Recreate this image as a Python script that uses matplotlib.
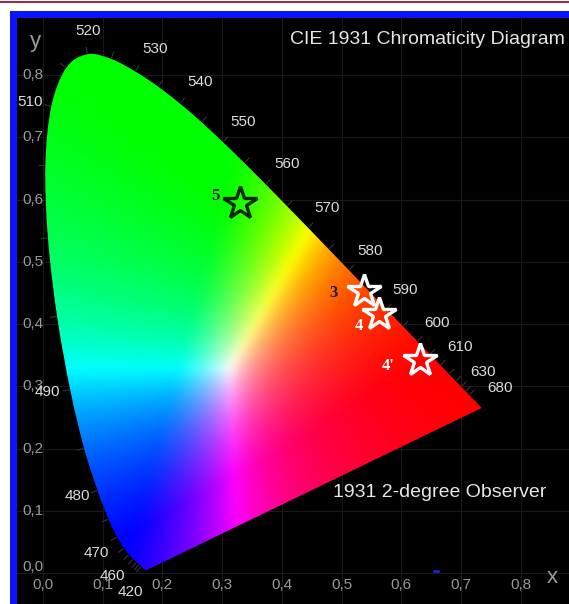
import numpy as np
import matplotlib
matplotlib.use("Agg")
import matplotlib.pyplot as plt
from matplotlib.patches import PathPatch, Rectangle
from matplotlib.path import Path

# CIE 1931 2-degree spectral locus (5 nm steps, 380-700 nm)
wavelengths = list(range(380, 705, 5))
locus_x = [0.1741, 0.1740, 0.1738, 0.1736, 0.1733, 0.1730, 0.1726, 0.1721, 0.1714, 0.1703,
           0.1689, 0.1669, 0.1644, 0.1611, 0.1566, 0.1510, 0.1440, 0.1355, 0.1241, 0.1096,
           0.0913, 0.0687, 0.0454, 0.0235, 0.0082, 0.0039, 0.0139, 0.0389, 0.0743, 0.1142,
           0.1547, 0.1929, 0.2296, 0.2658, 0.3016, 0.3373, 0.3731, 0.4087, 0.4441, 0.4788,
           0.5125, 0.5448, 0.5752, 0.6029, 0.6270, 0.6482, 0.6658, 0.6801, 0.6915, 0.7006,
           0.7079, 0.7140, 0.7190, 0.7230, 0.7260, 0.7283, 0.7300, 0.7311, 0.7320, 0.7327,
           0.7334, 0.7340, 0.7344, 0.7346, 0.7347]
locus_y = [0.0050, 0.0050, 0.0049, 0.0049, 0.0048, 0.0048, 0.0048, 0.0048, 0.0051, 0.0058,
           0.0069, 0.0086, 0.0109, 0.0138, 0.0177, 0.0227, 0.0297, 0.0399, 0.0578, 0.0868,
           0.1327, 0.2007, 0.2950, 0.4127, 0.5384, 0.6548, 0.7502, 0.8120, 0.8338, 0.8262,
           0.8059, 0.7816, 0.7543, 0.7243, 0.6923, 0.6589, 0.6245, 0.5896, 0.5547, 0.5202,
           0.4866, 0.4544, 0.4242, 0.3965, 0.3725, 0.3514, 0.3340, 0.3197, 0.3083, 0.2993,
           0.2920, 0.2859, 0.2809, 0.2770, 0.2740, 0.2717, 0.2700, 0.2689, 0.2680, 0.2673,
           0.2666, 0.2660, 0.2656, 0.2654, 0.2653]

# Wavelength labels and their positions
wl_labels = ["420", "460", "470", "480", "490", "510", "520", "530", "540", "550",
             "560", "570", "580", "590", "600", "610", "630", "680"]
wl_label_x = [0.146, 0.116, 0.090, 0.057, 0.007, -0.022, 0.075, 0.188, 0.263, 0.335,
              0.408, 0.475, 0.548, 0.606, 0.660, 0.698, 0.737, 0.765]
wl_label_y = [-0.031, -0.005, 0.032, 0.124, 0.291, 0.757, 0.871, 0.842, 0.789, 0.725,
              0.658, 0.587, 0.518, 0.455, 0.402, 0.363, 0.323, 0.297]

# Measured points (stars)
pt_names = ["5", "3", "4", "4'"]
pt_x = [0.330, 0.538, 0.563, 0.631]
pt_y = [0.595, 0.453, 0.416, 0.342]
pt_label_x = [0.288, 0.486, 0.529, 0.578]
pt_label_y = [0.606, 0.450, 0.397, 0.333]
pt_edge = ["#0a2a0a", "white", "white", "white"]
pt_text_color = ["#1a1a1a", "#1a1a1a", "white", "white"]

ticks = [0.0, 0.1, 0.2, 0.3, 0.4, 0.5, 0.6, 0.7, 0.8]
tick_labels = ["0,0", "0,1", "0,2", "0,3", "0,4", "0,5", "0,6", "0,7", "0,8"]

W, H = 569, 604
fig = plt.figure(figsize=(W / 100, H / 100), dpi=100, facecolor="white")

# decorative frame (behind the axes)
fig.patches.append(Rectangle((0, 1 - 3 / H), 1, 2 / H, transform=fig.transFigure,
                             facecolor="#a8283f", edgecolor="none", zorder=-10))
fig.patches.append(Rectangle((10 / W, 0), 1, 1 - 11 / H, transform=fig.transFigure,
                             facecolor="#0a14ff", edgecolor="none", zorder=-10))

XMIN, XMAX, YMIN, YMAX = -0.0436, 0.881, -0.0498, 0.892
ax = fig.add_axes([17 / W, 0, 1 - 17 / W, 1 - 18 / H])
ax.set_zorder(5)
ax.set_facecolor("black")
ax.set_xlim(XMIN, XMAX)
ax.set_ylim(YMIN, YMAX)
for s in ax.spines.values():
    s.set_visible(False)
ax.set_xticks(ticks)
ax.set_yticks(ticks)
ax.tick_params(length=0, labelbottom=False, labelleft=False)
ax.grid(True, color="#1a1a1a", linewidth=0.8, zorder=0)
ax.set_axisbelow(True)

# chromaticity colour image
nx, ny = 800, 800
gx = np.linspace(XMIN, XMAX, nx)
gy = np.linspace(YMIN, YMAX, ny)
XX, YY = np.meshgrid(gx, gy)
Yc = np.clip(YY, 1e-3, None)
X = XX / Yc
Y = np.ones_like(XX)
Z = (1 - XX - YY) / Yc
R = 3.2406 * X - 1.5372 * Y - 0.4986 * Z
G = -0.9689 * X + 1.8758 * Y + 0.0415 * Z
B = 0.0557 * X - 0.2040 * Y + 1.0570 * Z
rgb = np.stack([R, G, B], axis=-1)
rgb = np.clip(rgb, 0, None)
mx = rgb.max(axis=-1, keepdims=True)
mx[mx == 0] = 1
rgb = rgb / mx
rgb = np.clip(rgb, 0, 1) ** 1.1

# soften the hue boundaries a little (separable gaussian blur)
sig = 6.0
k = np.arange(-18, 19)
w = np.exp(-0.5 * (k / sig) ** 2)
w /= w.sum()
pad = 18
for axis in (0, 1):
    padw = [(0, 0)] * 3
    padw[axis] = (pad, pad)
    P = np.pad(rgb, padw, mode="edge")
    acc = np.zeros_like(rgb)
    size = rgb.shape[axis]
    for kk, ww in zip(k, w):
        sl = [slice(None)] * 3
        sl[axis] = slice(pad + kk, pad + kk + size)
        acc += ww * P[tuple(sl)]
    rgb = acc
rgb = np.clip(rgb, 0, 1)

# smooth outline of the locus (Catmull-Rom -> cubic Bezier), closed by the purple line
pts = np.column_stack([locus_x, locus_y])
verts = [pts[0]]
codes = [Path.MOVETO]
n = len(pts)
for i in range(n - 1):
    p0 = pts[max(i - 1, 0)]
    p1 = pts[i]
    p2 = pts[i + 1]
    p3 = pts[min(i + 2, n - 1)]
    c1 = p1 + (p2 - p0) / 6.0
    c2 = p2 - (p3 - p1) / 6.0
    verts += [c1, c2, p2]
    codes += [Path.CURVE4] * 3
verts.append(pts[0])
codes.append(Path.LINETO)
verts.append(pts[0])
codes.append(Path.CLOSEPOLY)
locus_path = Path(np.array(verts), codes)
patch = PathPatch(locus_path, facecolor="none", edgecolor="none", transform=ax.transData)
ax.add_patch(patch)
im = ax.imshow(rgb, origin="lower", extent=[gx[0], gx[-1], gy[0], gy[-1]],
               interpolation="bilinear", aspect="auto", zorder=1)
im.set_clip_path(patch)

# faint wavelength tick marks along the locus
lx = np.array(locus_x)
ly = np.array(locus_y)
cx, cy = 0.33, 0.33
for i in range(12, 52):
    i0, i1 = max(i - 1, 0), min(i + 1, len(lx) - 1)
    dx, dy = lx[i1] - lx[i0], ly[i1] - ly[i0]
    nxv, nyv = dy, -dx
    nrm = np.hypot(nxv, nyv)
    if nrm == 0:
        continue
    nxv, nyv = nxv / nrm, nyv / nrm
    if (lx[i] - cx) * nxv + (ly[i] - cy) * nyv < 0:
        nxv, nyv = -nxv, -nyv
    L = 0.011
    ax.plot([lx[i] + 0.002 * nxv, lx[i] + L * nxv], [ly[i] + 0.002 * nyv, ly[i] + L * nyv],
            color="#363636", linewidth=0.8, zorder=2)

for t, x, y in zip(wl_labels, wl_label_x, wl_label_y):
    ax.text(x, y, t, color="#dcdcdc", fontsize=11, family="Liberation Sans",
            ha="center", va="center", zorder=4)

for t, v in zip(tick_labels, ticks):
    ax.text(v, -0.019, t, color="#9a9a9a", fontsize=11, family="Liberation Sans",
            ha="center", va="center", zorder=3)
    yy = v if v > 0 else 0.010
    ax.text(-0.017, yy, t, color="#9a9a9a", fontsize=11, family="Liberation Sans",
            ha="center", va="center", zorder=3)

ax.text(-0.012, 0.854, "y", color="#9a9a9a", fontsize=16, family="Liberation Sans",
        ha="center", va="center")
ax.text(0.853, -0.008, "x", color="#9a9a9a", fontsize=16, family="Liberation Sans",
        ha="center", va="center")

ax.text(0.874, 0.857, "CIE 1931 Chromaticity Diagram", color="#e6e6e6", fontsize=14,
        family="Liberation Sans", ha="right", va="center")
ax.text(0.665, 0.129, "1931 2-degree Observer", color="#e6e6e6", fontsize=14,
        family="Liberation Sans", ha="center", va="center")

for x, y, ec in zip(pt_x, pt_y, pt_edge):
    ax.plot([x], [y], marker="*", markersize=25, markerfacecolor="none",
            markeredgecolor=ec, markeredgewidth=2.4, zorder=5)
for t, x, y, c in zip(pt_names, pt_label_x, pt_label_y, pt_text_color):
    ax.text(x, y, t, color=c, fontsize=12, family="Liberation Serif", weight="bold",
            ha="center", va="center", zorder=5)

ax.plot([0.655, 0.662], [0.003, 0.003], color="#2020c0", linewidth=2, zorder=3)

fig.savefig("out.png", dpi=100, facecolor="white")
